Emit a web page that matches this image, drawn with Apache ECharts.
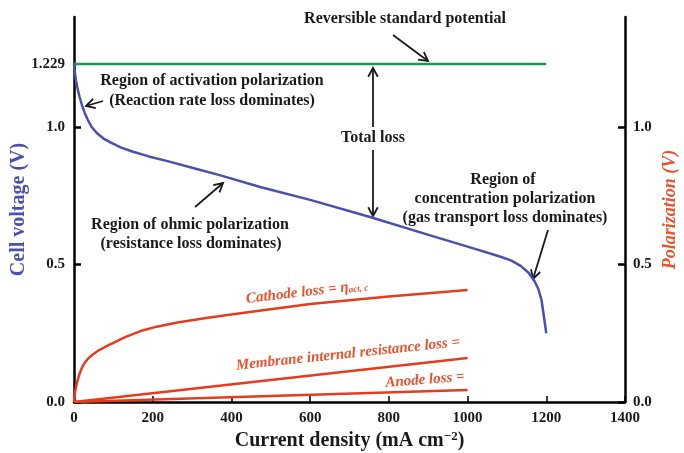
<!DOCTYPE html>
<html><head><meta charset="utf-8">
<script src="https://cdn.jsdelivr.net/npm/echarts@6/dist/echarts.min.js"></script>
<style>html,body{margin:0;padding:0;background:#fff}#c{width:684px;height:453px}</style>
</head><body><div id="c"></div>
<script>
// ---- data ----
const xTicks = [0, 200, 400, 600, 800, 1000, 1200, 1400];
const yTickValues = [0, 0.5, 1.0, 1.229];
const yTickLabels = ['0.0', '0.5', '1.0', '1.229'];
const yRightTickValues = [0, 0.5, 1.0];
const yRightTickLabels = ['0.0', '0.5', '1.0'];

const voltageX = [0, 2, 5, 9, 14, 20, 27, 35, 45, 58, 75, 95, 120, 150, 190, 240, 300, 370, 473, 600, 752, 905, 1000, 1080, 1110, 1135, 1155, 1170, 1180, 1188, 1194, 1200];
const voltageY = [1.229, 1.20, 1.17, 1.14, 1.11, 1.08, 1.052, 1.026, 1.0, 0.978, 0.958, 0.942, 0.925, 0.910, 0.893, 0.875, 0.852, 0.825, 0.782, 0.735, 0.673, 0.606, 0.565, 0.530, 0.515, 0.495, 0.47, 0.44, 0.41, 0.37, 0.31, 0.25];

const reversibleX = [0, 1200];
const reversibleY = [1.229, 1.229];

const cathodeX = [0, 2, 5, 9, 14, 20, 27, 36, 48, 62, 80, 100, 130, 169, 210, 263, 340, 423, 600, 800, 1000];
const cathodeY = [0, 0.03, 0.055, 0.078, 0.102, 0.124, 0.142, 0.158, 0.173, 0.187, 0.201, 0.215, 0.236, 0.258, 0.274, 0.289, 0.306, 0.323, 0.356, 0.384, 0.407];

const membraneX = [0, 1000];
const membraneY = [0, 0.16];

const anodeX = [0, 1000];
const anodeY = [0, 0.044];

const zip = (a, b) => a.map((v, i) => [v, b[i]]);

// ---- styles ----
const SERIF = '"Liberation Serif", "Times New Roman", serif';
const BLUE = '#4b4fae';
const RED = '#e63c1e';
const REDTXT = '#e8522c';
const GREEN = '#219a4c';
const INK = '#1a1a1a';

function arrow(x1, y1, x2, y2) {
  const a = Math.atan2(y2 - y1, x2 - x1), L = 10, w = 0.5;
  return [
    { type: 'line', shape: { x1, y1, x2, y2 }, style: { stroke: INK, lineWidth: 1.8 } },
    { type: 'polyline', shape: { points: [
        [x2 - L * Math.cos(a - w), y2 - L * Math.sin(a - w)], [x2, y2],
        [x2 - L * Math.cos(a + w), y2 - L * Math.sin(a + w)]] },
      style: { stroke: INK, lineWidth: 1.8, fill: null } }
  ];
}
function label(text, x, y, opts) {
  opts = opts || {};
  return {
    type: 'text', x, y, rotation: opts.rot || 0,
    style: {
      text, fill: opts.color || INK,
      font: (opts.italic ? 'italic ' : '') + 'bold ' + (opts.size || 16) + 'px ' + SERIF,
      align: 'center', verticalAlign: 'middle',
      textAlign: 'center', textVerticalAlign: 'middle',
      rich: opts.rich
    }
  };
}

const chart = echarts.init(document.getElementById('c'), null, { renderer: 'canvas' });
const tickFmt = (vals, labs) => v => { const i = vals.indexOf(v); return i >= 0 ? labs[i] : ''; };

const option = {
  animation: false,
  backgroundColor: '#fff',
  grid: { left: 74, right: 59, top: 17, bottom: 51, containLabel: false, outerBoundsMode: 'none' },
  xAxis: {
    type: 'value', min: 0, max: 1400, interval: 200,
    name: 'Current density (mA cm{sup|−2})',
    nameLocation: 'middle', nameGap: 28, nameMoveOverlap: false,
    nameTextStyle: { fontFamily: SERIF, fontWeight: 'bold', fontSize: 20, color: INK,
      rich: { sup: { fontFamily: SERIF, fontWeight: 'bold', fontSize: 13, color: INK, verticalAlign: 'top', padding: [0, 0, 9, 0] } } },
    axisLine: { show: true, lineStyle: { color: '#000', width: 2.5 } },
    axisTick: { show: true, inside: true, length: 6, lineStyle: { color: '#000', width: 1.5 } },
    axisLabel: { fontFamily: SERIF, fontWeight: 'bold', fontSize: 15, color: INK, margin: 9,
      customValues: xTicks, formatter: v => String(v) },
    splitLine: { show: false }
  },
  yAxis: [
    {
      type: 'value', min: 0, max: 1.4, position: 'left',
      name: 'Cell voltage (V)', nameLocation: 'middle', nameGap: 45, nameRotate: 90, nameMoveOverlap: false,
      nameTextStyle: { fontFamily: SERIF, fontWeight: 'bold', fontSize: 20, color: BLUE },
      axisLine: { show: true, lineStyle: { color: '#000', width: 2.5 } },
      axisTick: { show: true, inside: true, length: 7, customValues: yRightTickValues, lineStyle: { color: '#000', width: 2.5 } },
      axisLabel: { fontFamily: SERIF, fontWeight: 'bold', fontSize: 15, color: INK, margin: 9,
        customValues: yTickValues, formatter: tickFmt(yTickValues, yTickLabels) },
      splitLine: { show: false }
    },
    {
      type: 'value', min: 0, max: 1.4, position: 'right',
      name: 'Polarization (V)', nameLocation: 'middle', nameGap: 36, nameRotate: 90, nameMoveOverlap: false,
      nameTextStyle: { fontFamily: SERIF, fontWeight: 'bold', fontStyle: 'italic', fontSize: 18, color: REDTXT },
      axisLine: { show: true, lineStyle: { color: '#000', width: 2.5 } },
      axisTick: { show: true, inside: true, length: 7, customValues: yRightTickValues, lineStyle: { color: '#000', width: 2.5 } },
      axisLabel: { fontFamily: SERIF, fontWeight: 'bold', fontSize: 15, color: INK, margin: 8,
        customValues: yRightTickValues, formatter: tickFmt(yRightTickValues, yRightTickLabels) },
      splitLine: { show: false }
    }
  ],
  series: [
    { name: 'Reversible standard potential', type: 'line', yAxisIndex: 0, data: zip(reversibleX, reversibleY),
      showSymbol: false, lineStyle: { color: GREEN, width: 2.5 }, z: 3 },
    { name: 'Cell voltage', type: 'line', yAxisIndex: 0, data: zip(voltageX, voltageY),
      showSymbol: false, lineStyle: { color: BLUE, width: 2.5, join: 'round' }, z: 4 },
    { name: 'Cathode loss', type: 'line', yAxisIndex: 1, data: zip(cathodeX, cathodeY),
      showSymbol: false, lineStyle: { color: RED, width: 2.5, join: 'round' } },
    { name: 'Membrane internal resistance loss', type: 'line', yAxisIndex: 1, data: zip(membraneX, membraneY),
      showSymbol: false, lineStyle: { color: RED, width: 2.5 } },
    { name: 'Anode loss', type: 'line', yAxisIndex: 1, data: zip(anodeX, anodeY),
      showSymbol: false, lineStyle: { color: RED, width: 2.5 } }
  ],
  graphic: [
    label('Reversible standard potential', 405, 19),
    ...arrow(393, 35, 428, 61),
    label('Region of activation polarization', 212, 81),
    label('(Reaction rate loss dominates)', 212, 101),
    ...arrow(103, 101, 86, 106),
    label('Total loss', 373, 138),
    ...arrow(373, 127, 373, 68),
    ...arrow(373, 150, 373, 216),
    label('Region of ohmic polarization', 190, 225),
    label('(resistance loss dominates)', 191, 244),
    ...arrow(195, 207, 223, 183),
    label('Region of', 503, 180),
    label('concentration polarization', 505, 199),
    label('(gas transport loss dominates)', 505, 218),
    ...arrow(548, 230, 533, 279),
    label('Cathode loss = η{sub|act, c}', 307, 292, { italic: true, size: 15, color: REDTXT, rot: 0.115,
      rich: { sub: { fontFamily: SERIF, fontStyle: 'italic', fontWeight: 'bold', fontSize: 9, fill: REDTXT, color: REDTXT, padding: [6, 0, 0, 0] } } }),
    label('Membrane internal resistance loss =', 348, 354, { italic: true, size: 15, color: REDTXT, rot: 0.105 }),
    label('Anode loss =', 425, 380, { italic: true, size: 15, color: REDTXT, rot: 0.08 })
  ]
};
chart.setOption(option);
</script>
</body></html>
